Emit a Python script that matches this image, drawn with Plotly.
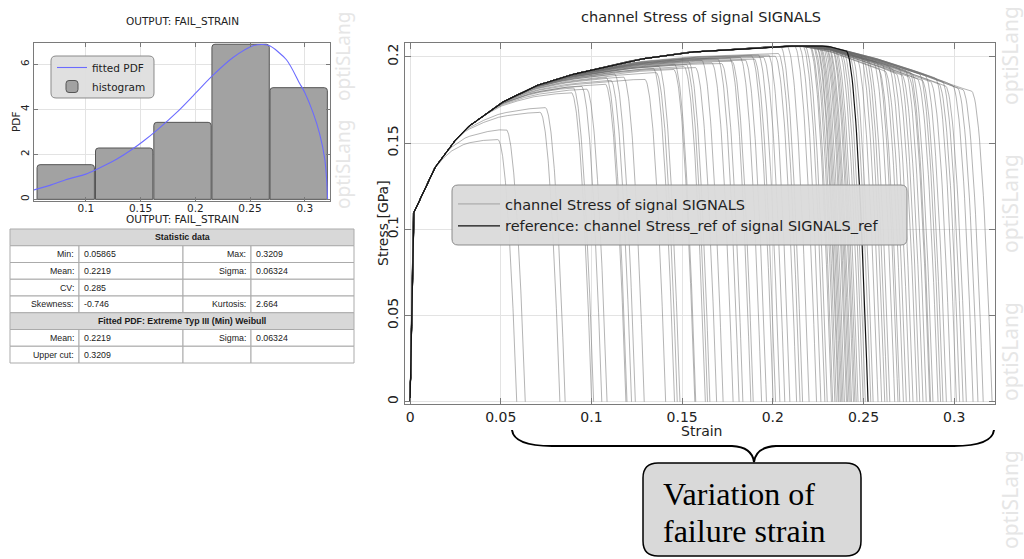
import numpy as np
import plotly.graph_objects as go

W, H = 1024, 559


def X(px):
    return px / W


def Y(py):
    return 1 - py / H


# ---------------- left panel data: histogram of failure strain ----------------
hist_centers = [0.0816, 0.1350, 0.1883, 0.2414, 0.2945]
hist_heights = [1.54, 2.28, 3.42, 6.89, 4.96]
hist_width = 0.0524

pdf_strain = [0.0526, 0.0671, 0.0823, 0.1000, 0.1097, 0.1280, 0.1417, 0.1524, 0.1661,
              0.1828, 0.1980, 0.2148, 0.2345, 0.2528, 0.2619, 0.2680, 0.2833, 0.2954,
              0.3000, 0.3076, 0.3137, 0.3183, 0.3200, 0.3209]
pdf_value = [0.42, 0.62, 0.88, 1.12, 1.33, 1.78, 2.20, 2.58, 3.12,
             3.85, 4.60, 5.45, 6.30, 6.82, 6.88, 6.82, 6.20, 5.15,
             4.75, 3.85, 2.90, 1.80, 0.90, 0.00]

stat_header = "Statistic data"
stat_rows = [("Min:", "0.05865", "Max:", "0.3209"),
             ("Mean:", "0.2219", "Sigma:", "0.06324"),
             ("CV:", "0.285", "", ""),
             ("Skewness:", "-0.746", "Kurtosis:", "2.664")]
fit_header = "Fitted PDF: Extreme Typ III (Min) Weibull"
fit_rows = [("Mean:", "0.2219", "Sigma:", "0.06324"),
            ("Upper cut:", "0.3209", "", "")]

# ---------------- right panel data: stress-strain signals ----------------
env_strain = [0.0, 0.0018, 0.0128, 0.022, 0.031, 0.0496, 0.068, 0.0863, 0.1047, 0.123,
              0.1506, 0.178, 0.200, 0.215, 0.230, 0.2516, 0.270, 0.288, 0.300, 0.325]
env_upper = [0.0, 0.109, 0.1344, 0.148, 0.1586, 0.173, 0.1827, 0.189, 0.1934, 0.198,
             0.2024, 0.2044, 0.2059, 0.2063, 0.2062, 0.2005, 0.1945, 0.1880, 0.1830, 0.1750]
env_lower = [0.0, 0.109, 0.1344, 0.148, 0.1586, 0.173, 0.1827, 0.189, 0.1934, 0.198,
             0.2024, 0.2044, 0.2059, 0.2063, 0.2030, 0.1945, 0.1865, 0.1790, 0.1745, 0.1670]

fail_strain = [
    0.0588, 0.0635, 0.0826, 0.0855, 0.1001, 0.1012, 0.1057, 0.1086,
    0.1190, 0.1196, 0.1221, 0.1242, 0.1291, 0.1409, 0.1458, 0.1473, 0.1488, 0.1570, 0.1575, 0.1628,
    0.1640, 0.1653, 0.1690, 0.1726, 0.1781, 0.1814, 0.1835, 0.1879, 0.1892, 0.1938, 0.1965, 0.2002,
    0.2015, 0.2039, 0.2066, 0.2094, 0.2131, 0.2150,
    0.2164, 0.2200, 0.2241, 0.2265, 0.2287, 0.2300, 0.2323, 0.2330, 0.2342, 0.2350, 0.2360, 0.2365,
    0.2373, 0.2380, 0.2387, 0.2395, 0.2406, 0.2412, 0.2420, 0.2427, 0.2434, 0.2445, 0.2452, 0.2460,
    0.2470, 0.2485, 0.2498, 0.2510, 0.2540, 0.2553, 0.2580, 0.2600, 0.2617, 0.2630, 0.2645, 0.2672,
    0.2690, 0.2700, 0.2720, 0.2736, 0.2755, 0.2773, 0.2795, 0.2810, 0.2828, 0.2846, 0.2865, 0.2870,
    0.2883, 0.2911, 0.2925, 0.2938, 0.2957, 0.2984, 0.3012, 0.3030, 0.3049, 0.3067, 0.3104, 0.3131,
    0.3160, 0.3209]
knee_stress = [
    0.152, 0.158, 0.168, 0.171, 0.181, 0.185, 0.186, 0.183,
    0.186, 0.192, 0.189, 0.195, 0.191, 0.188, 0.197, 0.193, 0.199, 0.195, 0.200, 0.197,
    0.199, 0.202, 0.196, 0.203, 0.200, 0.204, 0.199, 0.205, 0.201, 0.205, 0.202, 0.206,
    0.203, 0.207, 0.204, 0.207, 0.205, 0.208,
    0.2060, 0.2052, 0.2058, 0.2045, 0.2055, 0.2040, 0.2050, 0.2035, 0.2047, 0.2030, 0.2042, 0.2025,
    0.2040, 0.2032, 0.2020, 0.2038, 0.2015, 0.2030, 0.2010, 0.2025, 0.2005, 0.2020, 0.2000, 0.2012,
    0.1995, 0.2005, 0.1985, 0.1995, 0.1970, 0.1985, 0.1955, 0.1975, 0.1945, 0.1960, 0.1935, 0.1930,
    0.1925, 0.1880, 0.1915, 0.1870, 0.1905, 0.1890, 0.1860, 0.1895, 0.1850, 0.1880, 0.1840, 0.1870,
    0.1860, 0.1830, 0.1855, 0.1820, 0.1845, 0.1810, 0.1830, 0.1800, 0.1815, 0.1790, 0.1800, 0.1785,
    0.1775, 0.1765]
ref_fail = 0.2525

K_DROP = 30.0


def smin(a, b, d):
    h = np.clip((d - np.abs(a - b)) / d, 0, None)
    return np.minimum(a, b) - h * h * d / 4


def signal(f, k):
    eps = np.union1d(np.linspace(0, f, 600), [e for e in env_strain if e < f])
    up = np.interp(eps, env_strain, env_upper)
    lo = np.interp(eps, env_strain, env_lower)
    if f <= 0.215:
        path = smin(up, k, 0.02)
    else:
        uf = np.interp(f, env_strain, env_upper)
        lf = np.interp(f, env_strain, env_lower)
        b = (uf - k) / max(uf - lf, 1e-6)
        path = up - b * (up - lo)
    s = smin(path, K_DROP * (f - eps), 0.16)
    s = np.maximum(s, 0)
    s[-1] = 0
    return eps, s


FONT = "DejaVu Sans"
fig = go.Figure()

# ---- right panel traces ----
for i, (f, k) in enumerate(zip(fail_strain, knee_stress)):
    e, s = signal(f, k)
    fig.add_trace(go.Scatter(x=e, y=s, mode="lines", xaxis="x2", yaxis="y2",
                             line=dict(color="rgba(105,105,105,0.5)", width=1),
                             name="channel Stress of signal SIGNALS",
                             showlegend=(i == 0), legend="legend", hoverinfo="skip"))
e, s = signal(ref_fail, float(np.interp(ref_fail, env_strain, env_upper)))
fig.add_trace(go.Scatter(x=e, y=s, mode="lines", xaxis="x2", yaxis="y2",
                         line=dict(color="#111111", width=1.2),
                         name="reference: channel Stress_ref of signal SIGNALS_ref",
                         legend="legend", hoverinfo="skip"))

# ---- left panel traces ----
fig.add_trace(go.Bar(x=hist_centers, y=hist_heights, width=hist_width, xaxis="x", yaxis="y",
                     marker=dict(color="#a2a2a2", line=dict(color="#555555", width=1),
                                 cornerradius=3),
                     name="histogram", legend="legend2"))
fig.add_trace(go.Scatter(x=pdf_strain, y=pdf_value, mode="lines", xaxis="x", yaxis="y",
                         line=dict(color="#6b6bff", width=1.1, shape="spline", smoothing=0.8),
                         name="fitted PDF", legend="legend2"))

shapes = []
annotations = []


def P(px, py):
    return f"{X(px):.5f},{Y(py):.5f}"


def rrect(x0, y0, x1, y1, r):
    return ("M" + P(x0 + r, y0) + " L" + P(x1 - r, y0) + " Q" + P(x1, y0) + " " + P(x1, y0 + r) +
            " L" + P(x1, y1 - r) + " Q" + P(x1, y1) + " " + P(x1 - r, y1) +
            " L" + P(x0 + r, y1) + " Q" + P(x0, y1) + " " + P(x0, y1 - r) +
            " L" + P(x0, y0 + r) + " Q" + P(x0, y0) + " " + P(x0 + r, y0) + " Z")


# legend boxes (rounded)
shapes.append(dict(type="path", xref="paper", yref="paper", layer="above",
                   path=rrect(452, 185, 907, 245, 6), fillcolor="rgba(218,218,218,0.95)",
                   line=dict(color="#8a8a8a", width=1)))
shapes.append(dict(type="path", xref="paper", yref="paper", layer="above",
                   path=rrect(51, 56, 154, 98, 5), fillcolor="rgba(222,222,222,0.95)",
                   line=dict(color="#8a8a8a", width=1)))

# statistics table
TFONT = dict(family="Liberation Sans", size=8.8, color="#1a1a1a")
cols = [10, 79, 183, 251, 354]
top, rh = 229, 16.75
rows = [("H", stat_header)] + [("R", r) for r in stat_rows] + [("H", fit_header)] + [("R", r) for r in fit_rows]
for j, (kind, content) in enumerate(rows):
    y0 = top + j * rh
    y1 = y0 + rh
    ym = (y0 + y1) / 2
    if kind == "H":
        shapes.append(dict(type="rect", xref="paper", yref="paper", x0=X(cols[0]), x1=X(cols[4]),
                           y0=Y(y1), y1=Y(y0), fillcolor="#d8d8d8", line=dict(color="#ababab", width=1)))
        annotations.append(dict(x=X((cols[0] + cols[4]) / 2), y=Y(ym),
                                text="<b>" + content + "</b>", font=TFONT))
    else:
        for c in range(4):
            shapes.append(dict(type="rect", xref="paper", yref="paper", x0=X(cols[c]), x1=X(cols[c + 1]),
                               y0=Y(y1), y1=Y(y0), fillcolor="white", line=dict(color="#ababab", width=1)))
        lab1, val1, lab2, val2 = content
        for txt, xp, anc in ((lab1, cols[1] - 3, "right"), (val1, cols[1] + 3, "left"),
                             (lab2, cols[3] - 3, "right"), (val2, cols[3] + 3, "left")):
            if txt:
                annotations.append(dict(x=X(xp), y=Y(ym), text=txt, xanchor=anc, font=TFONT))

# brace and callout
brace = ("M" + P(512, 430) + " Q" + P(514, 446) + " " + P(552, 446) + " L" + P(732, 446) +
         " Q" + P(752, 447) + " " + P(754, 462) + " Q" + P(756, 447) + " " + P(776, 446) +
         " L" + P(954, 446) + " Q" + P(992, 446) + " " + P(994, 430))
shapes.append(dict(type="path", xref="paper", yref="paper", path=brace,
                   line=dict(color="black", width=2)))
shapes.append(dict(type="path", xref="paper", yref="paper", path=rrect(643, 463, 861, 556, 15),
                   fillcolor="#d9d9d9", line=dict(color="black", width=1.5)))
for txt, yp in (("Variation of", 494), ("failure strain", 531)):
    annotations.append(dict(x=X(661), y=Y(yp), text=txt, xanchor="left",
                            font=dict(family="Liberation Serif", size=32, color="black")))

# titles and axis titles
annotations += [
    dict(x=X(182), y=Y(21), text="OUTPUT: FAIL_STRAIN", font=dict(family=FONT, size=10.5, color="#222")),
    dict(x=X(182), y=Y(219), text="OUTPUT: FAIL_STRAIN", font=dict(family=FONT, size=10.5, color="#222")),
    dict(x=X(16), y=Y(122), text="PDF", textangle=-90, font=dict(family=FONT, size=10.5, color="#222")),
    dict(x=X(701), y=Y(17), text="channel Stress of signal SIGNALS", font=dict(family=FONT, size=14.5, color="#222")),
    dict(x=X(701), y=Y(431), text="Strain", font=dict(family=FONT, size=14, color="#222")),
    dict(x=X(383), y=Y(223), text="Stress [GPa]", textangle=-90, font=dict(family=FONT, size=14, color="#222")),
]
# watermarks
for yp in (57, 165):
    annotations.append(dict(x=X(343), y=Y(yp), text="optiSLang", textangle=-90,
                            font=dict(family="Noto Sans", size=19, color="#e6e6e6")))
for yp in (56, 204, 352, 500):
    annotations.append(dict(x=X(1010), y=Y(yp), text="optiSLang", textangle=-90,
                            font=dict(family="Noto Sans", size=21, color="#e6e6e6")))
for a in annotations:
    a.setdefault("xref", "paper")
    a.setdefault("yref", "paper")
    a.setdefault("showarrow", False)
    a.setdefault("xanchor", "center")
    a.setdefault("yanchor", "middle")

axis_common = dict(showline=True, linecolor="#7a7a7a", linewidth=1, mirror="allticks",
                   ticks="inside", tickcolor="#7a7a7a", showgrid=True, gridcolor="#e3e3e3",
                   zeroline=False)

fig.update_layout(
    width=W, height=H, margin=dict(l=0, r=0, t=0, b=0),
    paper_bgcolor="white", plot_bgcolor="white",
    font=dict(family=FONT, color="#222"),
    barmode="overlay",
    xaxis=dict(domain=[X(34), X(330)], range=[0.0526, 0.3231], anchor="y",
               tickvals=[0.1, 0.15, 0.2, 0.25, 0.3], ticktext=["0.1", "0.15", "0.2", "0.25", "0.3"],
               tickfont=dict(size=10.5), ticklen=4, ticklabelstandoff=-3, **axis_common),
    yaxis=dict(domain=[Y(201), Y(43)], range=[-0.074, 6.945], anchor="x",
               tickvals=[0, 2, 4, 6], tickangle=-90, tickfont=dict(size=10.5), ticklen=4, **axis_common),
    xaxis2=dict(domain=[X(405), X(995)], range=[-0.0028, 0.3225], anchor="y2",
                tickvals=[0, 0.05, 0.1, 0.15, 0.2, 0.25, 0.3],
                ticktext=["0", "0.05", "0.1", "0.15", "0.2", "0.25", "0.3"],
                tickfont=dict(size=14), ticklen=6, **axis_common),
    yaxis2=dict(domain=[Y(404), Y(42.7)], range=[-0.0013, 0.2082], anchor="x2",
                tickvals=[0, 0.05, 0.1, 0.15, 0.2], ticktext=["0", "0.05", "0.1", "0.15", "0.2"],
                tickangle=-90, tickfont=dict(size=14), ticklen=6, **axis_common),
    legend=dict(x=X(453), y=Y(188), xanchor="left", yanchor="top", bgcolor="rgba(0,0,0,0)",
                font=dict(family=FONT, size=14.5, color="#222"), itemwidth=42, traceorder="normal"),
    legend2=dict(x=X(52), y=Y(53), xanchor="left", yanchor="top", bgcolor="rgba(0,0,0,0)",
                 font=dict(family=FONT, size=10.5, color="#222"), traceorder="reversed", itemwidth=30),
    shapes=shapes,
    annotations=annotations,
    showlegend=True,
)

fig.write_html("out.html")
